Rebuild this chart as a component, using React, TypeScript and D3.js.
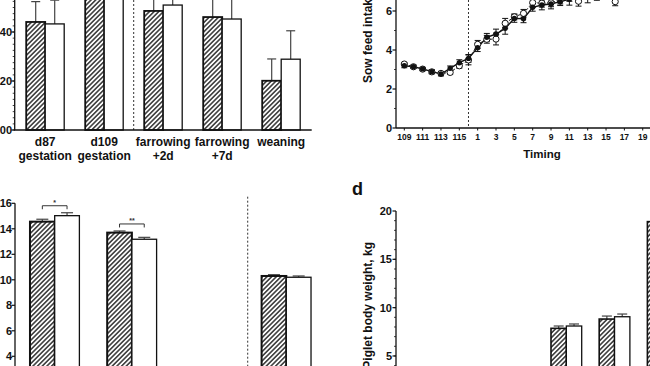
import React from "react";
import * as d3 from "d3";

const width = 650;
const height = 366;
const FONT = "'Liberation Sans', Arial, Helvetica, sans-serif";

// panel a (top left)
const aCats = ["d87", "d109", "far2", "far7", "wean"];
const aLabels = [["d87", "gestation"], ["d109", "gestation"], ["farrowing", "+2d"], ["farrowing", "+7d"], ["weaning"]];
const aCtrl = [144.1, 158, 148.6, 146.1, 120.1];
const aCtrlSd = [8.3, 8, 7, 8, 8.9];
const aTrt = [143.3, 157, 151, 145.3, 128.9];
const aTrtSd = [9.7, 8, 6, 9, 11.6];
const aTicks = [100, 120, 140];

// panel b (top right)
const bDays = ["109", "110", "111", "112", "113", "114", "115", "116",
  "1", "2", "3", "4", "5", "6", "7", "8", "9", "10",
  "11", "12", "13", "14", "15", "16", "17", "18", "19", "20"];
const bTickLabels = ["109", "111", "113", "115", "1", "3", "5", "7", "9", "11", "13", "15", "17", "19"];
const bCtrl = [3.19, 3.14, 3.03, 2.89, 2.77, 3.06, 3.35, 3.57, 4.12, 4.65, 4.82, 5.11, 5.62, 5.6,
  6.19, 6.31, 6.36, 6.48, 6.6, 6.75, 6.7, 6.8, 6.95, 6.9, 7.0, 7.1, 7.05, 7.1];
const bCtrlSd = [0.1, 0.08, 0.08, 0.1, 0.1, 0.12, 0.15, 0.2, 0.2, 0.2, 0.25, 0.3, 0.2, 0.2,
  0.2, 0.25, 0.25, 0.2, 0.3, 0.3, 0.28, 0.25, 0.15, 0.2, 0.15, 0.15, 0.15, 0.15];
const bTrt = [3.28, 3.14, 3.02, 2.88, 2.8, 2.85, 3.19, 3.49, 4.29, 4.55, 4.56, 5.37, 5.7, 5.88,
  6.43, 6.4, 6.42, 6.56, 6.7, 6.5, 6.9, 6.95, 7.0, 6.48, 7.05, 7.0, 7.15, 7.1];
const bTrtSd = [0.08, 0.08, 0.08, 0.1, 0.1, 0.1, 0.12, 0.25, 0.2, 0.2, 0.3, 0.25, 0.15, 0.2,
  0.25, 0.2, 0.2, 0.2, 0.2, 0.25, 0.2, 0.2, 0.2, 0.21, 0.2, 0.2, 0.2, 0.2];
const bTicks = [0, 2, 4, 6];

// panel c (bottom left)
const cCats = ["1", "2", "3", "4"];
const cCtrl = [14.56, 13.7, NaN, 10.3];
const cCtrlSd = [0.19, 0.13, NaN, 0.1];
const cTrt = [15.03, 13.18, NaN, 10.2];
const cTrtSd = [0.23, 0.15, NaN, 0.1];
const cTicks = [4, 6, 8, 10, 12, 14, 16];
const cSig = [{ cat: "1", label: "*" }, { cat: "2", label: "**" }];

// panel d (bottom right)
const dCats = ["1", "2", "3", "4", "5", "6"];
const dCtrl = [1.45, 2.4, 3.4, 7.86, 8.82, 18.9];
const dCtrlSd = [0.1, 0.15, 0.2, 0.24, 0.31, 0.5];
const dTrt = [1.45, 2.45, 3.45, 8.1, 9.06, 19.0];
const dTrtSd = [0.1, 0.15, 0.2, 0.21, 0.28, 0.5];
const dTicks = [5, 10, 15, 20];

const ink = "#111";
const errInk = "#444";

function Bars({ cats, ctrl, ctrlSd, trt, trtSd, x, y, cap, hatchStroke }) {
  const sub = d3.scaleBand().domain(["c", "t"]).range([0, x.bandwidth()]);
  const bw = sub.bandwidth();
  const out = [];
  cats.forEach((c, i) => {
    [[ctrl[i], ctrlSd[i], "c"], [trt[i], trtSd[i], "t"]].forEach(([v, sd, k]) => {
      if (isNaN(v)) return;
      const x0 = x(c) + sub(k);
      const cx = x0 + bw / 2;
      out.push(
        <g key={c + k}>
          <line x1={cx} x2={cx} y1={y(v)} y2={y(v + sd)} stroke={errInk} strokeWidth={1.2} />
          <line x1={cx - cap / 2} x2={cx + cap / 2} y1={y(v + sd)} y2={y(v + sd)} stroke={errInk} strokeWidth={1.2} />
          <rect x={x0} y={y(v)} width={bw} height={y.range()[0] - y(v)}
            fill={k === "c" ? "url(#hatch)" : "white"} stroke={ink}
            strokeWidth={k === "c" ? hatchStroke : 1.3} />
        </g>
      );
    });
  });
  return <g>{out}</g>;
}

function YAxis({ x, y, ticks, minor, top, bottom, fmt, labelX }) {
  return (
    <g>
      <line x1={x} x2={x} y1={top} y2={bottom} stroke={ink} strokeWidth={1.3} />
      {minor.map(t => (
        <line key={"m" + t} x1={x - 2} x2={x} y1={y(t)} y2={y(t)} stroke={ink} strokeWidth={0.8} />
      ))}
      {ticks.map(t => (
        <g key={t}>
          <line x1={x - 3.5} x2={x} y1={y(t)} y2={y(t)} stroke={ink} strokeWidth={1.2} />
          <text x={labelX} y={y(t) + 4} textAnchor="end" fontSize={11} fontWeight="bold" fill={ink}>{fmt(t)}</text>
        </g>
      ))}
    </g>
  );
}

export default function App() {
  // panel a
  const yA = d3.scaleLinear().domain([100, 160]).range([130, 130 - 60 * 2.45]);
  const xA = d3.scaleBand().domain(aCats).range([14.7, 311.7]).paddingInner(0.356).paddingOuter(0.195);
  const aDash = (xA("d109") + xA.bandwidth() + xA("far2")) / 2;

  // panel b
  const yB = d3.scaleLinear().domain([0, 8]).range([128, 128 - 8 * 19.5]);
  const xB = d3.scalePoint().domain(bDays).range([404.3, 404.3 + 27 * 9.17]);
  const lineB = d3.line().x((d, i) => xB(bDays[i])).y(d => yB(d));

  // panel c
  const yC = d3.scaleLinear().domain([0, 16]).range([407.3, 203.3]);
  const xC = d3.scaleBand().domain(cCats).range([15, 326]).paddingInner(0.36).paddingOuter(0.194);
  const subC = d3.scaleBand().domain(["c", "t"]).range([0, xC.bandwidth()]);
  const cDash = (xC("3") + xC.bandwidth() + xC("4")) / 2;

  // panel d
  const yD = d3.scaleLinear().domain([0, 20]).range([404.3, 211]);
  const xD = d3.scaleBand().domain(dCats).range([396, 688.5]).paddingInner(0.363).paddingOuter(0.216);

  return (
    <svg width={width} height={height} fontFamily={FONT}
      style={{ position: "absolute", left: 0, top: 0, background: "white" }}>
      <defs>
        <pattern id="hatch" width={3.3} height={3.3} patternUnits="userSpaceOnUse" patternTransform="rotate(45)">
          <rect width={3.3} height={3.3} fill="white" />
          <line x1={1.65} x2={1.65} y1={0} y2={3.3} stroke={ink} strokeWidth={1.3} />
        </pattern>
      </defs>
      <rect width={width} height={height} fill="white" />

      {/* panel a */}
      <line x1={aDash} x2={aDash} y1={0} y2={130} stroke="#333" strokeWidth={1} strokeDasharray="2,2" />
      <Bars cats={aCats} ctrl={aCtrl} ctrlSd={aCtrlSd} trt={aTrt} trtSd={aTrtSd} x={xA} y={yA} cap={9} hatchStroke={1.8} />
      <YAxis x={14.7} y={yA} ticks={aTicks} minor={d3.range(100, 161, 2.5)} top={0} bottom={130}
        fmt={t => String(t)} labelX={12} />
      <line x1={14} x2={311.7} y1={130} y2={130} stroke={ink} strokeWidth={1.3} />
      {aCats.map((c, i) => (
        <text key={c} x={xA(c) + xA.bandwidth() / 2} y={146} textAnchor="middle" fontSize={12} fontWeight="bold" fill={ink}>
          {aLabels[i].map((s, j) => (
            <tspan key={j} x={xA(c) + xA.bandwidth() / 2} dy={j === 0 ? 0 : 13.5}>{s}</tspan>
          ))}
        </text>
      ))}

      {/* panel b */}
      <line x1={xB("116")} x2={xB("116")} y1={0} y2={128} stroke="#333" strokeWidth={1} strokeDasharray="2,2" />
      <path d={lineB(bTrt)} fill="none" stroke={ink} strokeWidth={1} strokeDasharray="3,2" />
      <path d={lineB(bCtrl)} fill="none" stroke={ink} strokeWidth={1.4} />
      {[[bTrt, bTrtSd], [bCtrl, bCtrlSd]].map(([vals, sds], s) => (
        <g key={"e" + s}>
          {vals.map((v, i) => {
            const cx = xB(bDays[i]);
            return (
              <g key={i}>
                <line x1={cx} x2={cx} y1={yB(v - sds[i])} y2={yB(v + sds[i])} stroke={ink} strokeWidth={1} />
                <line x1={cx - 3} x2={cx + 3} y1={yB(v - sds[i])} y2={yB(v - sds[i])} stroke={ink} strokeWidth={1} />
                <line x1={cx - 3} x2={cx + 3} y1={yB(v + sds[i])} y2={yB(v + sds[i])} stroke={ink} strokeWidth={1} />
              </g>
            );
          })}
        </g>
      ))}
      {bTrt.map((v, i) => (
        <circle key={"o" + i} cx={xB(bDays[i])} cy={yB(v)} r={3.1} fill="white" stroke={ink} strokeWidth={1} />
      ))}
      {bCtrl.map((v, i) => (
        <circle key={"f" + i} cx={xB(bDays[i])} cy={yB(v)} r={2.7} fill={ink} />
      ))}
      <line x1={396} x2={396} y1={0} y2={128} stroke={ink} strokeWidth={1.3} />
      {[1, 3, 5, 7].map(t => (
        <line key={t} x1={394} x2={396} y1={yB(t)} y2={yB(t)} stroke={ink} strokeWidth={0.8} />
      ))}
      {bTicks.map(t => (
        <g key={t}>
          <line x1={392.5} x2={396} y1={yB(t)} y2={yB(t)} stroke={ink} strokeWidth={1.2} />
          <text x={392} y={yB(t) + 4} textAnchor="end" fontSize={11} fontWeight="bold" fill={ink}>{t}</text>
        </g>
      ))}
      <line x1={396} x2={650} y1={128} y2={128} stroke={ink} strokeWidth={1.3} />
      {bTickLabels.map(t => (
        <g key={t}>
          <line x1={xB(t)} x2={xB(t)} y1={128} y2={130.5} stroke={ink} strokeWidth={1} />
          <text x={xB(t)} y={139.5} textAnchor="middle" fontSize={8.5} fontWeight="bold" fill={ink}>{t}</text>
        </g>
      ))}
      <text x={542} y={158} textAnchor="middle" fontSize={11.5} fontWeight="bold" fill={ink}>Timing</text>
      <text transform="translate(372,83) rotate(-90)" textAnchor="start" fontSize={12} fontWeight="bold" fill={ink}>
        Sow feed intake, kg/d
      </text>

      {/* panel c */}
      <line x1={cDash} x2={cDash} y1={196.7} y2={height} stroke="#333" strokeWidth={1} strokeDasharray="2,2" />
      <Bars cats={cCats} ctrl={cCtrl} ctrlSd={cCtrlSd} trt={cTrt} trtSd={cTrtSd} x={xC} y={yC} cap={12} hatchStroke={2} />
      {cSig.map(({ cat, label }) => {
        const i = cCats.indexOf(cat);
        const x1 = xC(cat) + subC("c") + subC.bandwidth() / 2;
        const x2 = xC(cat) + subC("t") + subC.bandwidth() / 2;
        const yy = yC(Math.max(cCtrl[i] + cCtrlSd[i], cTrt[i] + cTrtSd[i])) - 7;
        return (
          <g key={cat}>
            <path d={`M${x1},${yy + 3.5}V${yy}H${x2}V${yy + 3.5}`} fill="none" stroke="#333" strokeWidth={1} />
            <text x={(x1 + x2) / 2} y={yy - 1} textAnchor="middle" fontSize={7} fontWeight="bold" fill="#333">{label}</text>
          </g>
        );
      })}
      <YAxis x={15} y={yC} ticks={cTicks} minor={[]} top={yC(16)} bottom={height}
        fmt={t => String(t)} labelX={12} />

      {/* panel d */}
      <text x={352} y={195} fontSize={18} fontWeight="bold" fill={ink}>d</text>
      <Bars cats={dCats} ctrl={dCtrl} ctrlSd={dCtrlSd} trt={dTrt} trtSd={dTrtSd} x={xD} y={yD} cap={10} hatchStroke={1.6} />
      <YAxis x={396} y={yD} ticks={dTicks} minor={d3.range(1, 20)} top={yD(20)} bottom={height}
        fmt={t => String(t)} labelX={392} />
      <text transform="translate(372,242) rotate(-90)" textAnchor="end" fontSize={12} fontWeight="bold" fill={ink}>
        Piglet body weight, kg
      </text>
    </svg>
  );
}
